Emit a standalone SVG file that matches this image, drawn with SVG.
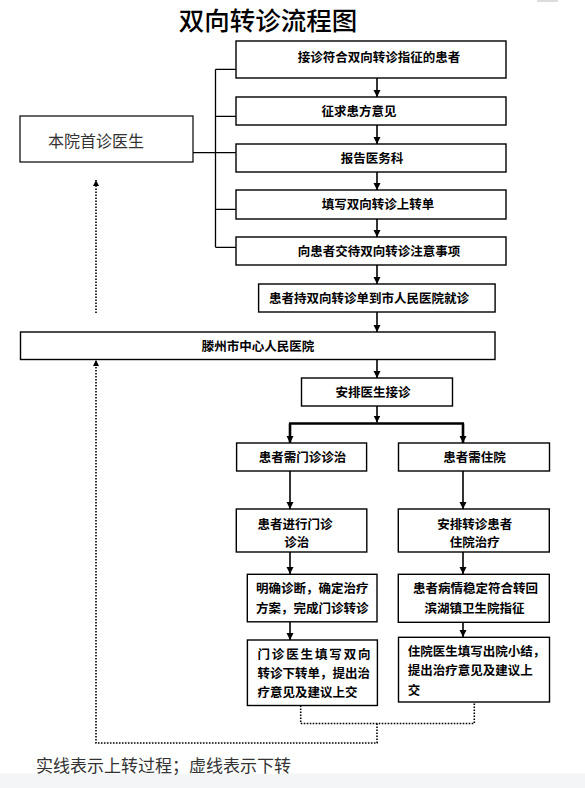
<svg xmlns="http://www.w3.org/2000/svg" width="585" height="788" viewBox="0 0 585 788">
<defs>
<style>
.box{fill:#fff;stroke:#000;stroke-width:1.4}
.t{font-family:"Noto Sans CJK SC","Liberation Sans",sans-serif;font-size:12.5px;font-weight:bold;fill:#000}
.c{text-anchor:middle}
.ln{fill:none;stroke:#000;stroke-width:1.3}
.ar{fill:none;stroke:#000;stroke-width:1.6}
.thick{fill:none;stroke:#000;stroke-width:2.6}
.dot{fill:none;stroke:#000;stroke-width:1.6;stroke-dasharray:1.6 1.4}
</style>
<marker id="ah" markerUnits="userSpaceOnUse" markerWidth="8" markerHeight="8" refX="7" refY="3.5" orient="auto">
<path d="M0,0 L7,3.5 L0,7 Z" fill="#000"/>
</marker>
<marker id="ahs" markerUnits="userSpaceOnUse" markerWidth="7" markerHeight="7" refX="6" refY="3" orient="auto">
<path d="M0,0 L6,3 L0,6 Z" fill="#000"/>
</marker>
</defs>
<rect x="0" y="0" width="585" height="788" fill="#fff"/>
<rect x="537" y="0" width="21" height="2" fill="#ddd"/>
<rect x="0" y="773.5" width="585" height="14.5" fill="#f4f5f7"/>
<text x="268" y="30" text-anchor="middle" style="font-family:'Liberation Serif','Noto Sans CJK SC',serif;font-size:25.5px;font-weight:500;fill:#000">双向转诊流程图</text>

<g id="connectors">
<path class="ln" d="M215.5,69.3 V247.3 M215.5,69.3 H236 M215.5,116.3 H236 M215.5,209.3 H236 M215.5,247.3 H236 M193,152.7 H236"/>
<path class="ar" marker-end="url(#ah)" d="M377,78 V97"/>
<path class="ar" marker-end="url(#ah)" d="M377,125 V144"/>
<path class="ar" marker-end="url(#ah)" d="M377,172 V190"/>
<path class="ar" marker-end="url(#ah)" d="M377,219 V237"/>
<path class="ar" marker-end="url(#ah)" d="M377,265 V284"/>
<path class="ar" marker-end="url(#ah)" d="M377,312 V332"/>
<path class="ar" marker-end="url(#ah)" d="M377,359.5 V378"/>
<path class="ar" marker-end="url(#ah)" d="M377,406 V422.5"/>
<path class="thick" d="M289,423.5 H464"/>
<path class="thick" marker-end="url(#ah)" d="M290,423.5 V443"/>
<path class="thick" marker-end="url(#ah)" d="M463,423.5 V443"/>
<path class="ar" marker-end="url(#ah)" d="M290,471 V509"/>
<path class="ar" marker-end="url(#ah)" d="M463,471 V509"/>
<path class="ar" marker-end="url(#ah)" d="M290,552 V574"/>
<path class="ar" marker-end="url(#ah)" d="M463,552 V574"/>
<path class="ar" marker-end="url(#ah)" d="M290,622 V640"/>
<path class="ar" marker-end="url(#ah)" d="M463,622.5 V637"/>
<path class="dot" d="M300.7,705.5 V723.5 H474.3 V702"/>
<path class="dot" marker-end="url(#ahs)" d="M377,723.5 V743 H96 V360"/>
<path class="dot" marker-end="url(#ahs)" d="M96,313 V180"/>
</g>

<g id="doctor">
<rect class="box" x="20" y="116" width="173" height="46" style="stroke-width:1.2"/>
<text x="96" y="146.5" text-anchor="middle" style="font-family:'Noto Sans CJK SC','Liberation Sans',sans-serif;font-size:16px;fill:#333">本院首诊医生</text>
</g>
<g id="n1"><rect class="box" x="236" y="41" width="270" height="37"/><text class="t c" x="379" y="61.5">接诊符合双向转诊指征的患者</text></g>
<g id="n2"><rect class="box" x="236" y="97" width="270" height="28"/><text class="t c" x="359" y="115.5">征求患方意见</text></g>
<g id="n3"><rect class="box" x="236" y="144" width="270" height="28"/><text class="t c" x="372" y="162.5">报告医务科</text></g>
<g id="n4"><rect class="box" x="236" y="190" width="270" height="29"/><text class="t c" x="378" y="209">填写双向转诊上转单</text></g>
<g id="n5"><rect class="box" x="236" y="237" width="270" height="28"/><text class="t c" x="379" y="255.5">向患者交待双向转诊注意事项</text></g>
<g id="n6"><rect class="box" x="258.6" y="284" width="236.5" height="28"/><text class="t c" x="369" y="302.5">患者持双向转诊单到市人民医院就诊</text></g>
<g id="hospital"><rect class="box" x="20.5" y="332" width="474.5" height="27.5"/><text class="t c" x="258" y="350.5">滕州市中心人民医院</text></g>
<g id="arrange"><rect class="box" x="301.5" y="378" width="151" height="28"/><text class="t c" x="373" y="396.5">安排医生接诊</text></g>
<g id="outpatient"><rect class="box" x="236.6" y="443" width="130" height="28"/><text class="t c" x="302.6" y="462">患者需门诊诊治</text></g>
<g id="inpatient"><rect class="box" x="398.5" y="443" width="151" height="28"/><text class="t c" x="474.6" y="462">患者需住院</text></g>
<g id="op2"><rect class="box" x="236.3" y="509" width="130.5" height="43"/><text class="t c" x="295" y="528.5">患者进行门诊</text><text class="t c" x="296.7" y="547">诊治</text></g>
<g id="ip2"><rect class="box" x="398.3" y="509" width="151" height="43"/><text class="t c" x="474.7" y="528.5">安排转诊患者</text><text class="t c" x="474.7" y="547">住院治疗</text></g>
<g id="op3"><rect class="box" x="247.3" y="574.3" width="129.7" height="47.5"/><text class="t" x="256" y="593">明确诊断，确定治疗</text><text class="t" x="256" y="612.5">方案，完成门诊转诊</text></g>
<g id="ip3"><rect class="box" x="398.3" y="574.3" width="151" height="48"/><text class="t c" x="475.5" y="593">患者病情稳定符合转回</text><text class="t c" x="474.5" y="612.5">滨湖镇卫生院指征</text></g>
<g id="op4"><rect class="box" x="247.4" y="640" width="130" height="65.5"/><text class="t" x="257.5" y="658.5" textLength="113" lengthAdjust="spacing">门诊医生填写双向</text><text class="t" x="257.5" y="677.5">转诊下转单，提出治</text><text class="t" x="257.5" y="696.5">疗意见及建议上交</text></g>
<g id="ip4"><rect class="box" x="398.5" y="637.3" width="151" height="64.7"/><text class="t" x="407.8" y="655.5">住院医生填写出院小结，</text><text class="t" x="407.8" y="675">提出治疗意见及建议上</text><text class="t" x="407.8" y="694.5">交</text></g>
<text x="36" y="772" style="font-family:'Liberation Serif','Noto Sans CJK SC',serif;font-size:17px;fill:#333">实线表示上转过程；虚线表示下转</text>
</svg>
